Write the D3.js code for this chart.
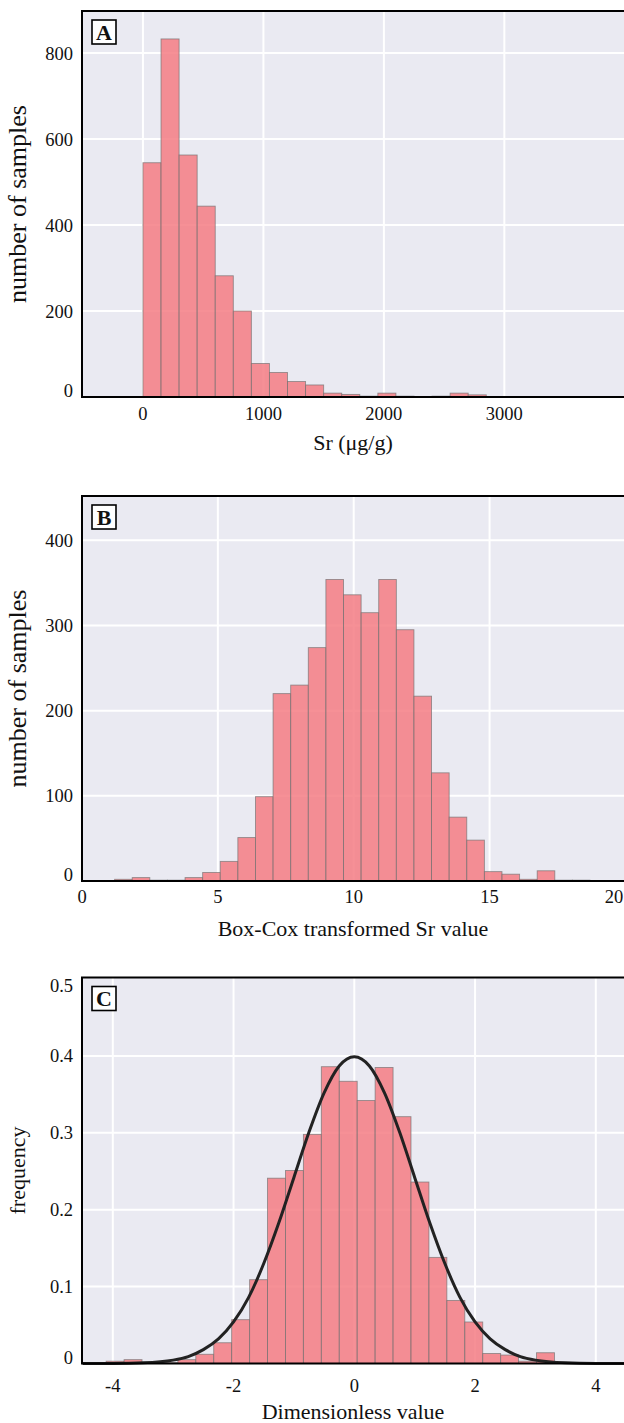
<!DOCTYPE html>
<html>
<head>
<meta charset="utf-8">
<script src="https://cdn.jsdelivr.net/npm/d3@7"></script>
<style>
  body { margin: 0; background: #fff; }
  svg { display: block; }
  text { font-family: "Liberation Serif", "Times New Roman", serif; fill: #111; }
</style>
</head>
<body>
<div id="chart"></div>
<script>
const kWidth = 624;
const kHeight = 1423;

// panel A : raw Sr histogram
const srBinStart = 0;
const srBinWidth = 150;
const srCounts = [545, 833, 563, 444, 282, 200, 78, 57, 36, 28, 9, 6, 2, 9, 2, 1, 2, 9, 5];
const srXTicks = [0, 1000, 2000, 3000];
const srYTicks = [0, 200, 400, 600, 800];

// panel B : Box-Cox transformed histogram
const bcBinStart = 1.2;
const bcBinWidth = 0.648;
const bcCounts = [2, 4, 1, 1, 4, 10, 23, 51, 99, 220, 230, 274, 354, 336, 315, 354, 295, 217, 127, 75, 48, 11, 8, 2, 12, 1, 1];
const bcXTicks = [0, 5, 10, 15, 20];
const bcYTicks = [0, 100, 200, 300, 400];

// panel C : standardised histogram + normal curve
const zBinStart = -4.11;
const zBinWidth = 0.297;
const zFreq = [0.003, 0.005, 0.001, 0.001, 0.005, 0.012, 0.027, 0.057, 0.109, 0.241, 0.251, 0.298, 0.386, 0.367, 0.342, 0.385, 0.321, 0.236, 0.138, 0.082, 0.054, 0.013, 0.011, 0.003, 0.014, 0.001, 0.001];
const zXTicks = [-4, -2, 0, 2, 4];
const zYTicks = [0, 0.1, 0.2, 0.3, 0.4, 0.5];
const curveX = [-4.5, -4, -3.5, -3, -2.75, -2.5, -2.25, -2, -1.75, -1.5, -1.25, -1, -0.75, -0.5, -0.25, 0, 0.25, 0.5, 0.75, 1, 1.25, 1.5, 1.75, 2, 2.25, 2.5, 2.75, 3, 3.5, 4, 4.5];
const curveY = [0, 0.0001, 0.0009, 0.0044, 0.009, 0.018, 0.032, 0.054, 0.086, 0.130, 0.183, 0.242, 0.301, 0.352, 0.387, 0.399, 0.387, 0.352, 0.301, 0.242, 0.183, 0.130, 0.086, 0.054, 0.032, 0.018, 0.009, 0.0044, 0.0009, 0.0001, 0];

const panels = [
  { letter: "A", top: 11, bottom: 397, xDomain: [-506, 4010], yDomain: [0, 898],
    binStart: srBinStart, binWidth: srBinWidth, values: srCounts,
    xTicks: srXTicks, yTicks: srYTicks, tickBase: 420, titleBase: 450,
    xTitle: "Sr (\u03bcg/g)", yTitle: "number of samples", yTitleSize: 26 },
  { letter: "B", top: 496, bottom: 881, xDomain: [0, 20.02], yDomain: [0, 452],
    binStart: bcBinStart, binWidth: bcBinWidth, values: bcCounts,
    xTicks: bcXTicks, yTicks: bcYTicks, tickBase: 903, titleBase: 936,
    xTitle: "Box-Cox transformed Sr value", yTitle: "number of samples", yTitleSize: 26 },
  { letter: "C", top: 977.5, bottom: 1363.5, xDomain: [-4.51, 4.5], yDomain: [0, 0.502],
    binStart: zBinStart, binWidth: zBinWidth, values: zFreq,
    xTicks: zXTicks, yTicks: zYTicks, tickBase: 1392, titleBase: 1419,
    xTitle: "Dimensionless value", yTitle: "frequency", yTitleSize: 22 }
];

const kLeft = 82;
const kRight = 626;

function createSvg()
{
  return d3.select("#chart")
    .append("svg")
    .attr("width", kWidth)
    .attr("height", kHeight);
}

function drawPanel(svg, p, withCurve)
{
  const x = d3.scaleLinear().domain(p.xDomain).range([kLeft, kRight]);
  const y = d3.scaleLinear().domain(p.yDomain).range([p.bottom, p.top]);
  const g = svg.append("g");

  g.append("rect")
    .attr("x", kLeft).attr("y", p.top)
    .attr("width", kRight - kLeft).attr("height", p.bottom - p.top)
    .attr("fill", "#eaeaf2");

  // grid
  g.selectAll(".vgrid")
    .data(p.xTicks.filter(t => x(t) > kLeft + 3 && x(t) < kWidth - 3))
    .enter().append("line")
    .attr("x1", d => x(d)).attr("x2", d => x(d))
    .attr("y1", p.top).attr("y2", p.bottom)
    .attr("stroke", "#fff").attr("stroke-width", 2);

  g.selectAll(".hgrid")
    .data(p.yTicks.filter(t => y(t) > p.top + 3 && y(t) < p.bottom - 3))
    .enter().append("line")
    .attr("x1", kLeft).attr("x2", kRight)
    .attr("y1", d => y(d)).attr("y2", d => y(d))
    .attr("stroke", "#fff").attr("stroke-width", 2);

  // bars
  g.selectAll(".bar")
    .data(p.values)
    .enter().append("rect")
    .attr("x", (d, i) => x(p.binStart + i * p.binWidth))
    .attr("width", (d, i) => x(p.binStart + (i + 1) * p.binWidth) - x(p.binStart + i * p.binWidth))
    .attr("y", d => y(d))
    .attr("height", d => y(0) - y(d))
    .attr("fill", "#f47c84")
    .attr("fill-opacity", 0.85)
    .attr("stroke", "#6f6f6f")
    .attr("stroke-opacity", 0.7)
    .attr("stroke-width", 0.9);

  if (withCurve) {
    const line = d3.line()
      .x((d, i) => x(curveX[i]))
      .y(d => y(d))
      .curve(d3.curveMonotoneX);
    g.append("path")
      .datum(curveY)
      .attr("d", line)
      .attr("fill", "none")
      .attr("stroke", "#222")
      .attr("stroke-width", 3);
  }

  // frame (left, top, bottom)
  g.append("path")
    .attr("d", `M${kRight},${p.top}H${kLeft}V${p.bottom}H${kRight}`)
    .attr("fill", "none")
    .attr("stroke", "#000")
    .attr("stroke-width", 2);

  // y tick labels
  g.selectAll(".ylab")
    .data(p.yTicks)
    .enter().append("text")
    .attr("x", 73)
    .attr("y", d => Math.min(Math.max(y(d), p.top + 8), p.bottom - 6))
    .attr("dy", "0.35em")
    .attr("text-anchor", "end")
    .style("font-size", "18.5px")
    .text(d => String(d));

  // x tick labels
  g.selectAll(".xlab")
    .data(p.xTicks)
    .enter().append("text")
    .attr("x", d => Math.min(x(d), 614))
    .attr("y", p.tickBase)
    .attr("text-anchor", "middle")
    .style("font-size", "18.5px")
    .text(d => String(d));

  g.append("text")
    .attr("x", (kLeft + kWidth) / 2)
    .attr("y", p.titleBase)
    .attr("text-anchor", "middle")
    .style("font-size", "22px")
    .text(p.xTitle);

  g.append("text")
    .attr("transform", `translate(${p.yTitleSize > 22 ? 26 : 25}, ${(p.top + p.bottom) / 2}) rotate(-90)`)
    .attr("text-anchor", "middle")
    .style("font-size", p.yTitleSize + "px")
    .text(p.yTitle);

  // panel letter
  g.append("rect")
    .attr("x", kLeft + 10).attr("y", p.top + 9)
    .attr("width", 24).attr("height", 24)
    .attr("fill", "#fff")
    .attr("stroke", "#000")
    .attr("stroke-width", 1.6);
  g.append("text")
    .attr("x", kLeft + 22).attr("y", p.top + 28.5)
    .attr("text-anchor", "middle")
    .style("font-size", "22px")
    .style("font-weight", "bold")
    .text(p.letter);
}

document.addEventListener("DOMContentLoaded", () => {
  const svg = createSvg();
  panels.forEach((p, i) => drawPanel(svg, p, i === 2));
});
</script>
</body>
</html>
